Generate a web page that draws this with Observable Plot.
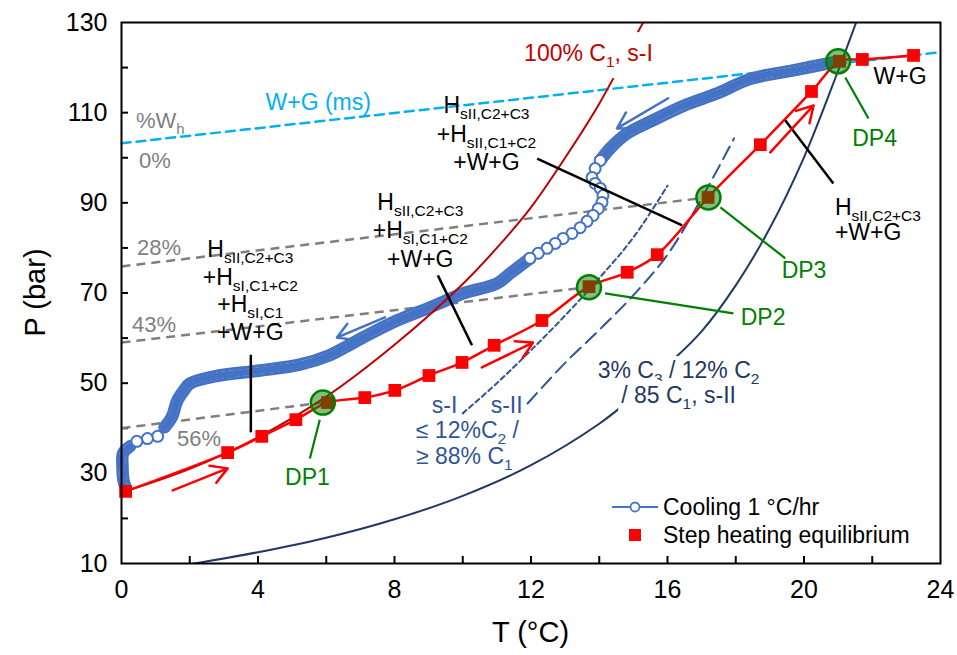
<!DOCTYPE html>
<html><head><meta charset="utf-8">
<script src="https://cdn.jsdelivr.net/npm/d3@7"></script>
<script src="https://cdn.jsdelivr.net/npm/@observablehq/plot@0.6"></script>
<style>
body{margin:0;background:#fff;font-family:"Liberation Sans",Arial,sans-serif;}
#wrap{position:relative;width:957px;height:655px;}
</style></head><body><div id="wrap"></div>
<script>
// ---------------- DATA ----------------
// Step heating equilibrium (T °C, P bar)
const heatT = [0.12, 3.11, 4.11, 5.11, 6.04, 7.13, 8.01, 9.01, 9.98, 10.92, 12.32, 13.70, 14.82, 15.70, 17.19, 18.72, 20.22, 21.04, 21.71, 23.21];
const heatP = [26.0, 34.6, 38.2, 41.9, 45.7, 46.8, 48.4, 51.7, 54.6, 58.4, 63.9, 71.4, 74.6, 78.5, 91.2, 102.9, 114.7, 121.4, 121.8, 122.7];
// Cooling 1 °C/hr — dense part A (high T)
const coolAT = [20.9, 19.69, 18.43, 17.46, 16.46, 15.49, 14.82, 14.32, 14.03];
const coolAP = [121.2, 119.4, 117.5, 114.3, 111.5, 108.0, 105.4, 102.1, 99.4];
// Cooling — sparse points in the bulge
const coolBulgeT = [14.03, 13.88, 13.79, 13.88, 14.03, 14.11, 14.08, 13.97, 13.82, 13.64, 13.44, 13.20, 12.94, 12.71, 12.47, 12.21, 11.97];
const coolBulgeP = [99.4, 97.6, 95.6, 94.3, 93.2, 91.6, 90.1, 88.7, 87.2, 85.9, 84.5, 83.2, 82.1, 81.0, 79.9, 78.8, 77.7];
// Cooling — dense part B
const coolBT = [11.97, 11.38, 11.0, 10.01, 9.04, 8.07, 7.07, 6.54, 6.10, 5.22, 4.05, 2.73, 2.0, 1.85, 1.64, 1.47, 1.26];
const coolBP = [77.7, 74.3, 72.1, 69.9, 66.8, 63.9, 60.1, 57.9, 56.2, 54.1, 52.8, 51.5, 49.9, 48.6, 46.2, 42.4, 40.2];
// Cooling — sparse points near 0 °C
const coolSparseT = [1.06, 0.76, 0.45];
const coolSparseP = [38.2, 37.7, 37.1];
// Cooling — dense part C (vertical at ~0 °C)
const coolCT = [0.25, 0.05, 0.03, 0.06, 0.12];
const coolCP = [36.0, 34.5, 31.3, 28.4, 26.9];

// Dissociation points
const dpNames = ["DP1", "DP2", "DP3", "DP4"];
const dpT = [5.9, 13.7, 17.2, 21.0];
const dpP = [45.7, 71.3, 91.2, 121.4];
// DP label leader lines & label anchors
const dpLeadT1 = [5.81, 14.17, 17.55, 21.21], dpLeadP1 = [41.9, 69.9, 89.0, 117.8];
const dpLeadT2 = [5.52, 17.93, 19.45, 21.89], dpLeadP2 = [33.3, 65.5, 77.7, 108.7];
const dpLabelT = [5.45, 18.8, 20.0, 22.07], dpLabelP = [29.0, 64.5, 75.0, 104.3];

// %Wh lines (start pressure at 0 °C -> DP)
const whLabels = ["56%", "43%", "28%"];
const whStartP = [40.0, 59.0, 75.9];
const whEndDP = [0, 1, 2];
// W+G (ms) line
const msT = [0, 24], msP = [103.2, 123.4];

// 100% C1, s-I equilibrium curve
const c1T = [0.1, 2, 4, 6, 8, 10, 11, 12, 13, 14, 15, 15.5];
const c1P = [26, 31, 38, 47, 58.5, 72, 80, 89, 100, 112, 126, 133];
// 3% C3 / 12% C2 / 85% C1, s-II curve
const mixT = [1.9, 4, 6, 8, 10, 12, 14, 15, 16, 17, 18, 19, 20, 21, 21.6];
const mixP = [9.7, 12.5, 15.7, 19.8, 25.0, 31.8, 41.0, 47, 54, 61.5, 71.7, 84.4, 100.1, 119.3, 131.5];
// s-I and s-II for <=12% C2 / >=88% C1
const sIT = [10.0, 11, 12, 13, 14, 15, 16.0];
const sIP = [43.3, 50, 57.3, 65, 73.3, 82.3, 93.8];
const sIIT = [11.9, 13, 14, 15, 16, 17, 17.95];
const sIIP = [45.5, 54.5, 61.8, 69.5, 78.5, 91, 104.3];

// arrows
const redArrT1 = [1.50, 10.56, 19.01], redArrP1 = [26.2, 53.5, 101.2];
const redArrT2 = [3.11, 12.06, 20.28], redArrP2 = [31.1, 59.0, 111.6];
const blueArrT1 = [7.72, 16.02], blueArrP1 = [64.6, 113.2];
const blueArrT2 = [6.31, 14.52], blueArrP2 = [60.1, 106.5];

// black leader lines of phase annotations
const leadT1 = [3.79, 9.27, 12.18, 19.45], leadP1 = [56.3, 73.9, 99.8, 108.3];
const leadT2 = [3.79, 10.27, 16.43, 20.86], leadP2 = [39.1, 58.4, 85.0, 94.3];

// phase annotations
const annoLines = [
  ["H_{sII,C2+C3}", "+H_{sI,C1+C2}", "+H_{sI,C1}", "+W+G"],
  ["H_{sII,C2+C3}", "+H_{sI,C1+C2}", "+W+G"],
  ["H_{sII,C2+C3}", "+H_{sII,C1+C2}", "+W+G"],
  ["H_{sII,C2+C3}", "+W+G"],
  ["W+G"]
];
const annoT = [3.79, 8.77, 10.71, 20.92, 22.83];
const annoP = [79.65, 90.1, 111.6, 89.0, 118.0];
const annoAnchor = ["middle", "middle", "middle", "start", "middle"];

// coloured labels
const lblText = ["%W_{h}", "0%", "28%", "43%", "56%", "W+G (ms)", "3% C_{3} / 12% C_{2}", "/ 85 C_{1}, s-II", "s-I", "s-II", "≤ 12%C_{2} /", "≥ 88% C_{1}"];
const lblT = [0.44, 0.53, 0.47, 0.32, 1.64, 5.78, 16.34, 16.34, 9.48, 11.3, 10.15, 10.06];
const lblP = [108.3, 99.4, 80.1, 63.0, 37.7, 112.3, 52.8, 47.3, 45.0, 45.0, 39.5, 33.7];
const lblKind = ["gray", "gray", "gray", "gray", "gray", "cyan", "navy", "navy", "blue", "blue", "blue", "blue"];
const lblAnchor = ["start", "start", "start", "start", "start", "middle", "middle", "middle", "middle", "middle", "middle", "middle"];
const c1Label = "100% C_{1}, s-I", c1LabelT = 13.7, c1LabelP = 123.1;

const xLabelTicks = [0, 4, 8, 12, 16, 20, 24];
const xMinorTicks = [2, 4, 6, 8, 10, 12, 14, 16, 18, 20, 22];
const yLabelTicks = [10, 30, 50, 70, 90, 110, 130];
const yMinorTicks = [20, 30, 40, 50, 60, 70, 80, 90, 100, 110, 120];

// ---------------- BUILD ----------------
const zip = (T, P) => T.map((t, i) => ({T: t, P: P[i]}));
const heat = zip(heatT, heatP);
const coolA = zip(coolAT, coolAP), coolB = zip(coolBT, coolBP), coolC = zip(coolCT, coolCP);
const coolBulge = zip(coolBulgeT, coolBulgeP), coolSparse = zip(coolSparseT, coolSparseP);
const dps = dpNames.map((n, i) => ({n, T: dpT[i], P: dpP[i]}));
const whLines = whLabels.map((l, i) => ({T1: 0, P1: whStartP[i], T2: dpT[whEndDP[i]], P2: dpP[whEndDP[i]]}));
const links = (T1, P1, T2, P2) => T1.map((t, i) => ({T1: t, P1: P1[i], T2: T2[i], P2: P2[i]}));

const BLUE = "#4472C4", RED = "#FF0000", DARKRED = "#C00000", NAVY = "#1F3864", MIDBLUE = "#2F5597", GRAY = "#7F7F7F", CYAN = "#00B0F0", GREEN = "#008000";
const colorOf = {gray: GRAY, cyan: CYAN, navy: NAVY, blue: MIDBLUE};

const W = 957, H = 655, mL = 121, mR = 17, mT = 22, mB = 92;
// dense open-circle trace rendered as a blue band with white slivers
const band = (data) => [
  Plot.line(data, {x: "T", y: "P", stroke: BLUE, strokeWidth: 12.5, curve: "catmull-rom", strokeLinecap: "round", strokeLinejoin: "round"}),
  Plot.line(data, {x: "T", y: "P", stroke: "white", strokeWidth: 6.5, curve: "catmull-rom"}),
  Plot.line(data, {x: "T", y: "P", stroke: BLUE, strokeWidth: 7, curve: "catmull-rom", strokeDasharray: "2.3,1.5"})
];

const plot = Plot.plot({
  width: W, height: H, marginLeft: mL, marginRight: mR, marginTop: mT, marginBottom: mB,
  x: {domain: [0, 24]}, y: {domain: [10, 130]},
  style: {fontFamily: "'Liberation Sans', Arial, sans-serif", background: "white", color: "black"},
  marks: [
    Plot.axisX({ticks: xLabelTicks, tickSize: 0, tickPadding: 17, fontSize: 25, label: null}),
    Plot.axisY({ticks: yLabelTicks, tickSize: 0, tickPadding: 14, fontSize: 25, label: null}),
    Plot.tickX(xMinorTicks, {x: d => d, insetTop: H - mT - mB - 7, stroke: "black", strokeWidth: 2}),
    Plot.tickY(yMinorTicks, {y: d => d, insetRight: W - mL - mR - 7, stroke: "black", strokeWidth: 2}),
    // %Wh lines
    Plot.link(whLines, {x1: "T1", y1: "P1", x2: "T2", y2: "P2", stroke: GRAY, strokeWidth: 2.5, strokeDasharray: "9,6"}),
    Plot.line(zip(msT, msP), {x: "T", y: "P", stroke: CYAN, strokeWidth: 2.5, strokeDasharray: "9,6"}),
    // cooling
    ...band(coolA), ...band(coolB), ...band(coolC),
    Plot.line([coolA[coolA.length - 1], ...coolBulge, coolB[0]], {x: "T", y: "P", stroke: BLUE, strokeWidth: 1.5}),
    Plot.line([coolB[coolB.length - 1], ...coolSparse, coolC[0]], {x: "T", y: "P", stroke: BLUE, strokeWidth: 1.5}),
    Plot.dot(coolBulge, {x: "T", y: "P", r: 5.5, fill: "white", stroke: BLUE, strokeWidth: 2}),
    Plot.dot(coolSparse, {x: "T", y: "P", r: 5.5, fill: "white", stroke: BLUE, strokeWidth: 2}),
    // equilibrium curves
    Plot.line(zip(c1T, c1P), {x: "T", y: "P", stroke: DARKRED, strokeWidth: 2, curve: "catmull-rom", clip: true}),
    Plot.line(zip(mixT, mixP), {x: "T", y: "P", stroke: NAVY, strokeWidth: 2, curve: "catmull-rom", clip: true}),
    Plot.line(zip(sIT, sIP), {x: "T", y: "P", stroke: MIDBLUE, strokeWidth: 2, curve: "catmull-rom", strokeDasharray: "5,3.5"}),
    Plot.line(zip(sIIT, sIIP), {x: "T", y: "P", stroke: MIDBLUE, strokeWidth: 2, curve: "catmull-rom", strokeDasharray: "14,7"}),
    // heating
    Plot.line(heat, {x: "T", y: "P", stroke: RED, strokeWidth: 2.5, curve: "catmull-rom"}),
    Plot.dot(heat, {x: "T", y: "P", symbol: "square", r: 7.2, fill: RED}),
    // DP circles
    Plot.dot(dps, {x: "T", y: "P", r: 12, fill: GREEN, fillOpacity: 0.5, stroke: GREEN, strokeWidth: 2.5}),
    Plot.link(links(dpLeadT1, dpLeadP1, dpLeadT2, dpLeadP2), {x1: "T1", y1: "P1", x2: "T2", y2: "P2", stroke: GREEN, strokeWidth: 2.2}),
    Plot.text(dps, {x: (d, i) => dpLabelT[i], y: (d, i) => dpLabelP[i], text: "n", fill: GREEN, fontSize: 23}),
    // leaders & arrows
    Plot.link(links(leadT1, leadP1, leadT2, leadP2), {x1: "T1", y1: "P1", x2: "T2", y2: "P2", stroke: "black", strokeWidth: 2.5}),
    Plot.arrow(links(redArrT1, redArrP1, redArrT2, redArrP2), {x1: "T1", y1: "P1", x2: "T2", y2: "P2", stroke: RED, strokeWidth: 2.5, headLength: 11}),
    Plot.arrow(links(blueArrT1, blueArrP1, blueArrT2, blueArrP2), {x1: "T1", y1: "P1", x2: "T2", y2: "P2", stroke: BLUE, strokeWidth: 2.5, headLength: 11}),
    Plot.frame({stroke: "black", strokeWidth: 2})
  ]
});

document.getElementById("wrap").appendChild(plot);
const sx = plot.scale("x"), sy = plot.scale("y");
const svg = d3.select(plot);
const g = svg.append("g").attr("font-family", "'Liberation Sans', Arial, sans-serif").attr("text-anchor", "start");

function rich(x, y, str, {anchor = "middle", fill = "black", size = 23, sub = 15.5, shift = 6} = {}) {
  const t = g.append("text").attr("x", x).attr("y", y + 0.35 * size).attr("text-anchor", anchor)
    .attr("fill", fill).attr("font-size", size).style("white-space", "pre");
  const parts = str.split(/(_\{[^}]*\})/).filter(s => s);
  let shifted = 0;
  for (const p of parts) {
    if (p.startsWith("_{")) {
      t.append("tspan").attr("font-size", sub).attr("dy", shift - shifted).text(p.slice(2, -1));
      shifted = shift;
    } else {
      const ts = t.append("tspan").text(p);
      if (shifted) { ts.attr("dy", -shifted); shifted = 0; }
    }
  }
  return t;
}
function whiteBox(t, padX, padY) {
  const b = t.node().getBBox();
  g.insert("rect", () => t.node()).attr("x", b.x - padX).attr("y", b.y - padY)
    .attr("width", b.width + 2 * padX).attr("height", b.height + 2 * padY).attr("fill", "white");
}

// phase annotations
const spacing = [27.5, 28.5, 28.5, 25.5, 0];
annoLines.forEach((lines, k) => {
  lines.forEach((s, j) => rich(sx.apply(annoT[k]), sy.apply(annoP[k]) + j * spacing[k], s, {anchor: annoAnchor[k]}));
});
// coloured labels
lblText.forEach((s, i) => {
  const gray = lblKind[i] === "gray";
  const t = rich(sx.apply(lblT[i]), sy.apply(lblP[i]), s, {anchor: lblAnchor[i], fill: colorOf[lblKind[i]], size: gray ? 22 : 23, sub: gray ? 15 : 15.5});
  if (lblKind[i] === "navy") whiteBox(t, 3, 1);
});
// 100% C1 label with white box
whiteBox(rich(sx.apply(c1LabelT), sy.apply(c1LabelP), c1Label, {fill: DARKRED}), 4, 8);

// axis titles
g.append("text").attr("transform", `translate(35,${(mT + H - mB) / 2}) rotate(-90)`).attr("text-anchor", "middle")
  .attr("dy", "0.35em").attr("font-size", 29).text("P (bar)");
g.append("text").attr("x", mL + (W - mL - mR) / 2).attr("y", 632).attr("text-anchor", "middle")
  .attr("dy", "0.35em").attr("font-size", 29).text("T (°C)");
// legend
const lg = g.append("g").attr("font-size", 23).attr("text-anchor", "start");
lg.append("line").attr("x1", 612).attr("x2", 658).attr("y1", 507).attr("y2", 507).attr("stroke", BLUE).attr("stroke-width", 2);
lg.append("circle").attr("cx", 635).attr("cy", 507).attr("r", 4.5).attr("fill", "white").attr("stroke", BLUE).attr("stroke-width", 1.8);
lg.append("text").attr("x", 663).attr("y", 507).attr("dy", "0.35em").text("Cooling 1 °C/hr");
lg.append("rect").attr("x", 629).attr("y", 529).attr("width", 12).attr("height", 12).attr("fill", RED);
lg.append("text").attr("x", 663).attr("y", 535).attr("dy", "0.35em").text("Step heating equilibrium");
</script>
</body></html>
